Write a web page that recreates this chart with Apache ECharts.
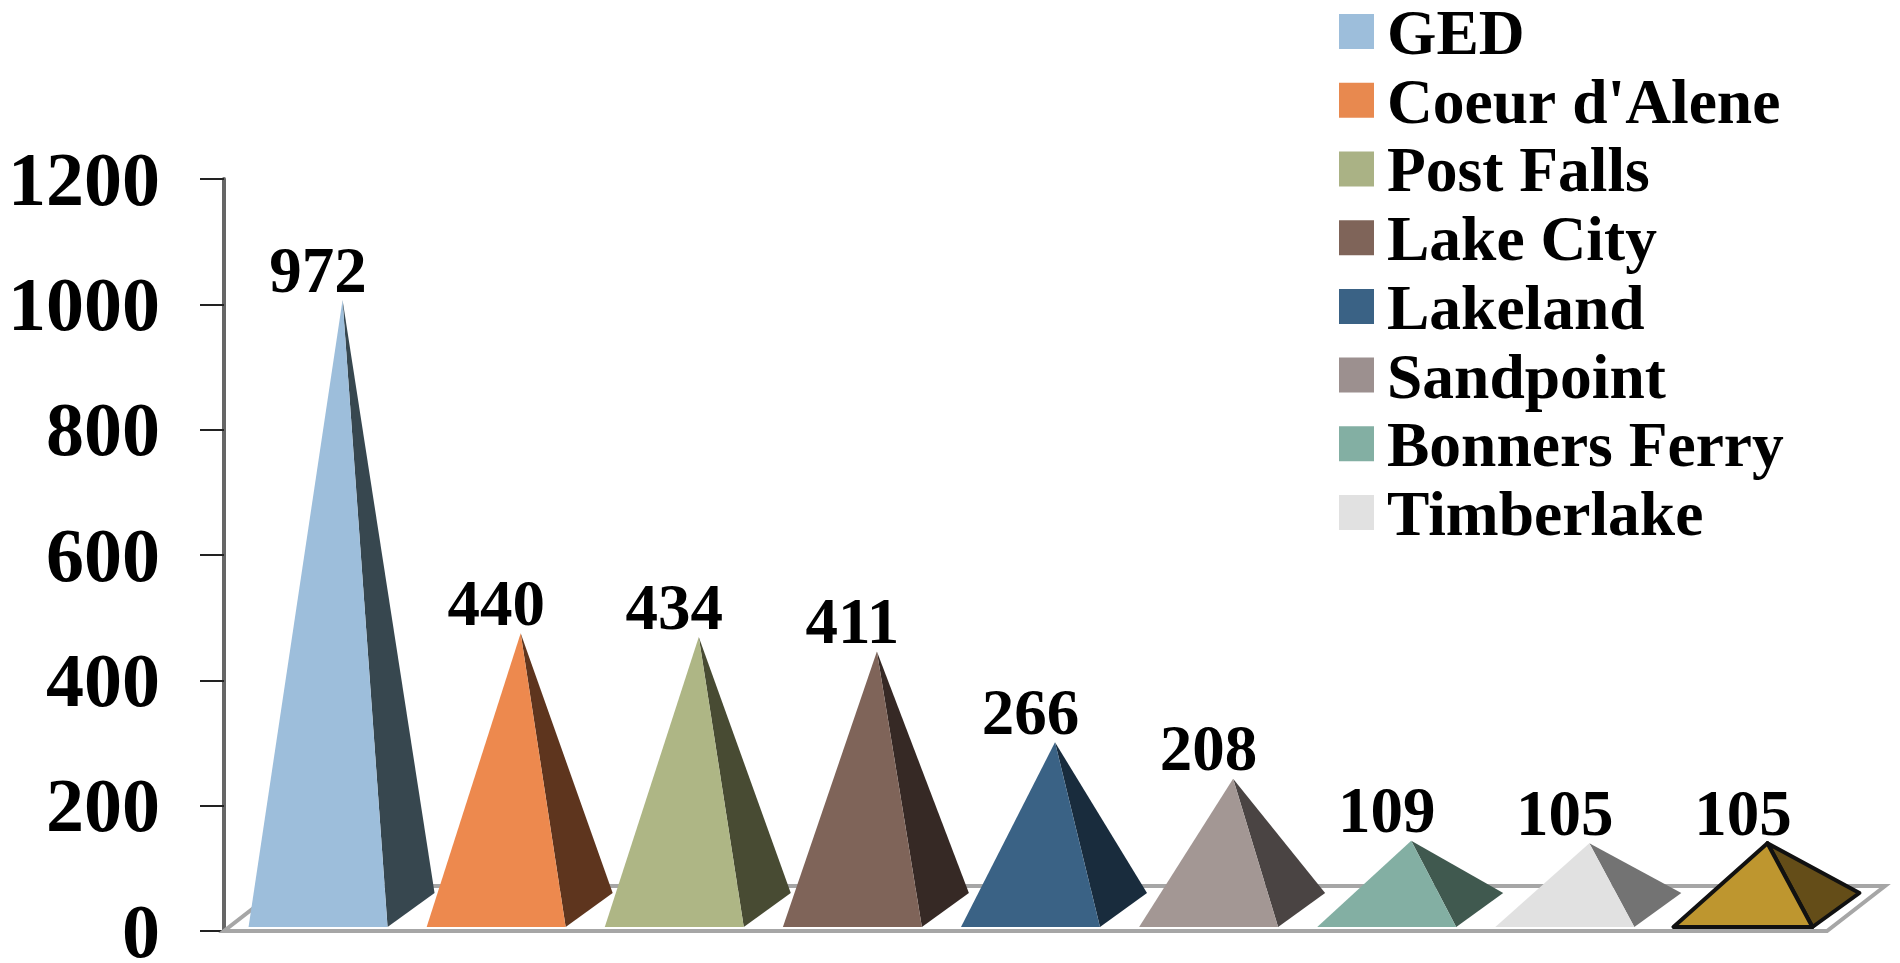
<!DOCTYPE html>
<html><head><meta charset="utf-8">
<style>html,body{margin:0;padding:0;background:#fff}#c{width:1900px;height:963px}</style>
<script src="https://cdn.jsdelivr.net/npm/echarts@6/dist/echarts.min.js"></script>
</head><body><div id="c"></div>
<script>
const categories = ["GED","Coeur d'Alene","Post Falls","Lake City","Lakeland","Sandpoint","Bonners Ferry","Timberlake",""];
const values = [972,440,434,411,266,208,109,105,105];
const yTicks = [0,200,400,600,800,1000,1200];
const frontColors = ["#9DBEDB","#ED894E","#AEB685","#7F6459","#3A6285","#A39794","#83AFA3","#E1E1E1","#BE962F"];
const sideColors = ["#37474F","#5E351E","#484B33","#362925","#192C3D","#4A4443","#40594F","#737373","#644D18"];
const legendColors = ["#9DBEDB","#E8894F","#AAB285","#7F6459","#3A6285","#9C908F","#83AFA3","#E1E1E1"];

const FONT = '"Liberation Serif","Times New Roman",serif';
const BASE_W = 139, DX = 47, DY = 34, LIFT = 4, SHIFT = 5;

function pyramid(i) {
  return function (params, api) {
    const top = api.coord([i, api.value(1)]);
    const bot = api.coord([i, 0]);
    const cx = bot[0] + SHIFT, by = bot[1] - LIFT;
    const L = [cx - BASE_W / 2, by], R = [cx + BASE_W / 2, by], B = [R[0] + DX, by - DY];
    const A = [cx + DX / 2 + 1, top[1] - 22];
    const outlined = i === 8;
    const stroke = outlined ? { stroke: '#111', lineWidth: 4, lineJoin: 'round' } : {};
    return { type: 'group', children: [
      { type: 'polygon', shape: { points: [R, B, A] }, style: Object.assign({ fill: sideColors[i] }, stroke) },
      { type: 'polygon', shape: { points: [L, R, A] }, style: Object.assign({ fill: frontColors[i] }, stroke) },
      { type: 'text', style: { text: String(values[i]), x: cx, y: top[1] - 47, align: 'center', verticalAlign: 'middle',
          font: 'bold 65px ' + FONT, fill: '#000' } }
    ]};
  };
}

const floorSeries = {
  type: 'custom', name: '__floor', coordinateSystem: 'cartesian2d', silent: true, z: 1,
  data: [[0, 0]],
  renderItem: function (params) {
    const s = params.coordSys, y = s.y + s.height, x = s.x, r = s.x + s.width;
    return { type: 'polygon', shape: { points: [[x, y], [r, y], [r + 58, y - 45], [x + 58, y - 45]] },
      style: { fill: '#fff', stroke: '#A6A6A6', lineWidth: 4 } };
  }
};

const chart = echarts.init(document.getElementById('c'));
chart.setOption({
  animation: false,
  backgroundColor: '#fff',
  grid: { left: 224, top: 179, width: 1603, height: 752, outerBoundsMode: 'none', containLabel: false },
  legend: {
    orient: 'vertical', left: 1339, top: 5.6, padding: 0, itemWidth: 35, itemHeight: 35, itemGap: 4.7,
    icon: 'rect', selectedMode: false,
    data: categories.slice(0, 8),
    formatter: '{a|{name}}',
    textStyle: { rich: { a: { fontFamily: FONT, fontWeight: 'bold', fontSize: 63.5, color: '#000', padding: [12, 0, 0, 8] } } }
  },
  xAxis: { type: 'category', data: categories.map((c, i) => i), axisLabel: { show: false }, axisTick: { show: false },
    axisLine: { show: false } },
  yAxis: { type: 'value', min: yTicks[0], max: yTicks[yTicks.length - 1], interval: yTicks[1] - yTicks[0],
    splitLine: { show: false },
    axisLine: { show: true, lineStyle: { color: '#666', width: 4 } },
    axisTick: { show: true, length: 24, lineStyle: { color: '#222', width: 2 } },
    axisLabel: { margin: 64, fontFamily: FONT, fontWeight: 'bold', fontSize: 76, color: '#000', verticalAlign: 'top', lineHeight: 12,
      formatter: function (v) { return String(v); } } },
  series: [floorSeries].concat(categories.map((name, i) => ({
    type: 'custom', name: name, coordinateSystem: 'cartesian2d', z: 2 + i,
    itemStyle: { color: i < 8 ? legendColors[i] : frontColors[i] },
    encode: { x: 0, y: 1 },
    data: [[i, values[i]]],
    renderItem: pyramid(i)
  })))
});
</script></body></html>
